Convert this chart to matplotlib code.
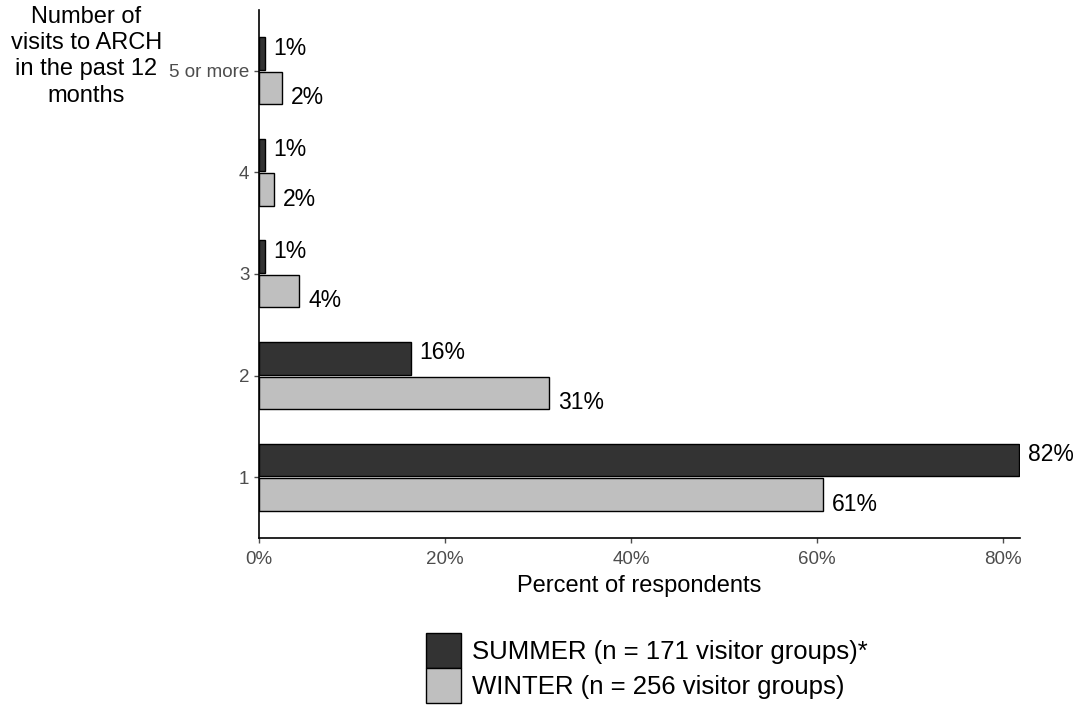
import matplotlib
matplotlib.use("Agg")
import matplotlib.pyplot as plt
from matplotlib.patches import Patch
import numpy as np

plt.rcParams['font.family'] = ['Liberation Sans', 'DejaVu Sans']

categories = ["1", "2", "3", "4", "5 or more"]
summer = [81.7, 16.3, 0.6, 0.6, 0.6]
winter = [60.6, 31.2, 4.3, 1.6, 2.5]
series_names = ["SUMMER (n = 171 visitor groups)*", "WINTER (n = 256 visitor groups)"]
xticks = [0, 20, 40, 60, 80]

fig = plt.figure(figsize=(10.78, 7.07), dpi=100)
ax = fig.add_axes([0.2403, 0.239, 0.7059, 0.747])

y = np.arange(1, len(categories) + 1)
h = 0.32
ax.barh(y + 0.17, summer, height=h, color="#333333", edgecolor="black", linewidth=1.0)
ax.barh(y - 0.17, winter, height=h, color="#bfbfbf", edgecolor="black", linewidth=1.0)

for yi, v in zip(y, summer):
    ax.annotate(f"{round(v)}%", (v, yi + 0.17), xytext=(6.5, 4), textcoords="offset points",
                ha="left", va="center", fontsize=16.5, color="black")
for yi, v in zip(y, winter):
    ax.annotate(f"{round(v)}%", (v, yi - 0.17), xytext=(6.5, -7), textcoords="offset points",
                ha="left", va="center", fontsize=16.5, color="black")

ax.set_xlim(0, 81.8)
ax.set_ylim(0.4, 5.6)
ax.set_yticks(y)
ax.set_yticklabels(categories)
ax.set_xticks(xticks)
ax.set_xticklabels([f"{t}%" for t in xticks])
ax.tick_params(axis="both", colors="#4d4d4d", labelsize=13.5, length=3.5, width=1)
ax.tick_params(axis="x", pad=6)
for s in ["top", "right"]:
    ax.spines[s].set_visible(False)
for s in ["left", "bottom"]:
    ax.spines[s].set_linewidth(1.2)
    ax.spines[s].set_color("black")

ax.set_xlabel("Percent of respondents", fontsize=17, labelpad=5)
fig.text(0.08, 0.992, "Number of\nvisits to ARCH\nin the past 12\nmonths", ha="center", va="top",
         fontsize=17, linespacing=1.26)

handles = [Patch(facecolor="#333333", edgecolor="black", linewidth=1.0),
           Patch(facecolor="#bfbfbf", edgecolor="black", linewidth=1.0)]
fig.legend(handles, series_names, loc="lower left", bbox_to_anchor=(0.383, -0.012),
           frameon=False, fontsize=18.5, handlelength=1.36, handleheight=1.68,
           handletextpad=0.45, labelspacing=0.02, borderaxespad=0.1)

fig.savefig("out.png", dpi=100)
